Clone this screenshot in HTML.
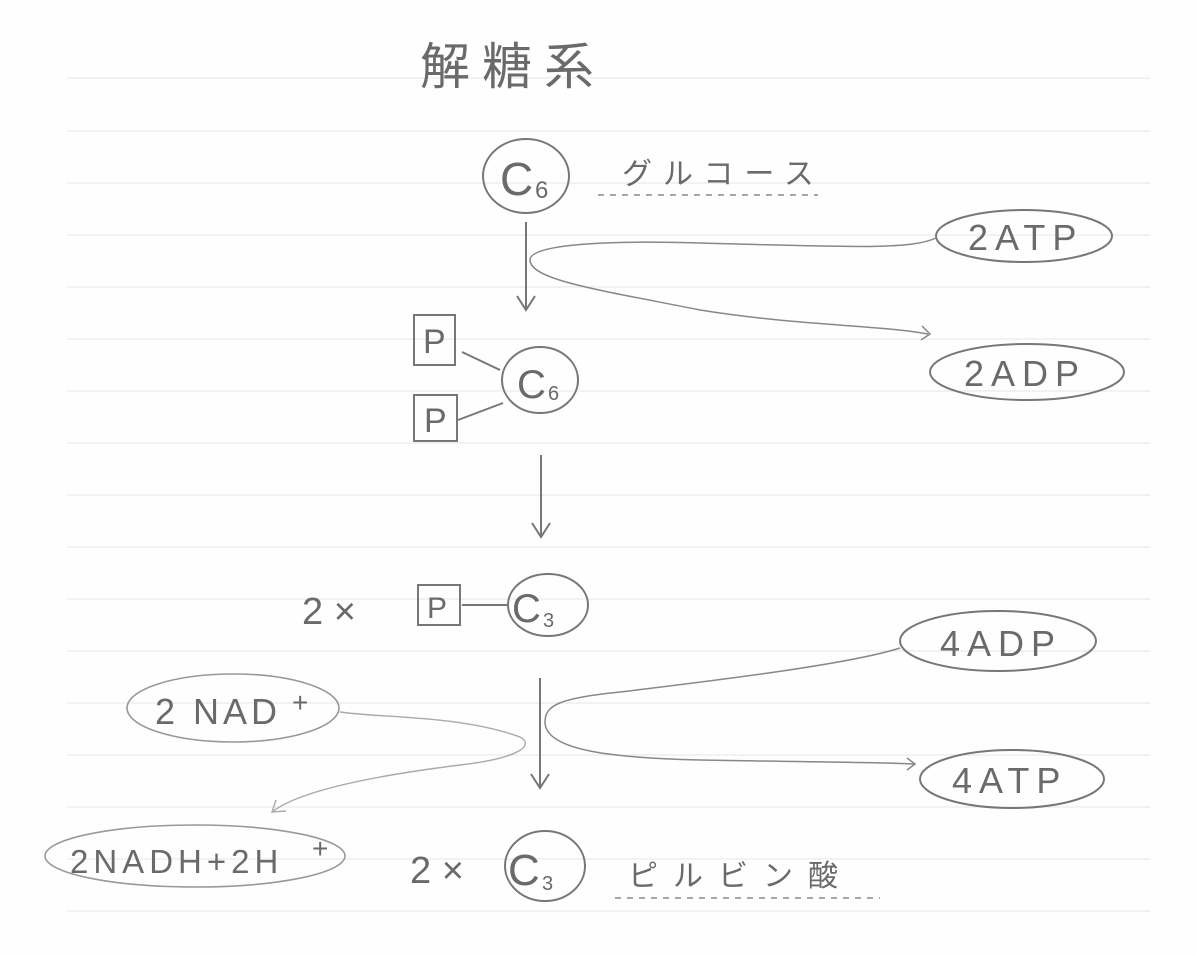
<!DOCTYPE html>
<html><head><meta charset="utf-8"><style>
html,body{margin:0;padding:0;background:#fff;}
svg{display:block;}
text{font-family:"Liberation Sans","Noto Sans CJK JP",sans-serif;fill:#6a6a6a;}
</style></head><body>
<svg width="1197" height="955" viewBox="0 0 1197 955" xmlns="http://www.w3.org/2000/svg">
<rect width="1197" height="955" fill="#fefefe"/>
<g stroke="#ececec" stroke-width="1.3">
<line x1="67" y1="78" x2="1150" y2="78"/><line x1="67" y1="131" x2="1150" y2="131"/>
<line x1="67" y1="183" x2="1150" y2="183"/><line x1="67" y1="235" x2="1150" y2="235"/>
<line x1="67" y1="287" x2="1150" y2="287"/><line x1="67" y1="339" x2="1150" y2="339"/>
<line x1="67" y1="391" x2="1150" y2="391"/><line x1="67" y1="443" x2="1150" y2="443"/>
<line x1="67" y1="495" x2="1150" y2="495"/><line x1="67" y1="547" x2="1150" y2="547"/>
<line x1="67" y1="599" x2="1150" y2="599"/><line x1="67" y1="651" x2="1150" y2="651"/>
<line x1="67" y1="703" x2="1150" y2="703"/><line x1="67" y1="755" x2="1150" y2="755"/>
<line x1="67" y1="807" x2="1150" y2="807"/><line x1="67" y1="859" x2="1150" y2="859"/>
<line x1="67" y1="911" x2="1150" y2="911"/>
</g>
<text x="420" y="84" font-size="50" fill="#777" letter-spacing="12">解糖系</text>

<g fill="none" stroke="#777" stroke-width="2">
<ellipse cx="526" cy="176" rx="43" ry="37"/>
<ellipse cx="1024" cy="236" rx="88" ry="26"/>
<ellipse cx="1027" cy="372" rx="97" ry="28"/>
<ellipse cx="540" cy="380" rx="38" ry="33"/>
<rect x="414" y="315" width="41" height="50"/>
<rect x="414" y="395" width="43" height="46"/>
<line x1="462" y1="352" x2="500" y2="370"/>
<line x1="458" y1="420" x2="503" y2="403"/>
<rect x="418" y="585" width="42" height="40"/>
<line x1="462" y1="605" x2="508" y2="605"/>
<ellipse cx="548" cy="605" rx="40" ry="31"/>
<ellipse cx="998" cy="641" rx="98" ry="30"/>
<ellipse cx="1012" cy="779" rx="92" ry="29"/>
<ellipse cx="545" cy="866" rx="40" ry="35"/>
</g>
<g fill="none" stroke="#999" stroke-width="1.6">
<ellipse cx="233" cy="708" rx="106" ry="34"/>
<ellipse cx="195" cy="856" rx="150" ry="31"/>
</g>
<g fill="none" stroke="#777" stroke-width="2">
<line x1="526" y1="222" x2="526" y2="310"/><path d="M517 296 L526 310 L535 296"/>
<line x1="541" y1="455" x2="541" y2="537"/><path d="M532 523 L541 537 L550 523"/>
<line x1="540" y1="678" x2="540" y2="788"/><path d="M531 774 L540 788 L549 774"/>
</g>
<g fill="none" stroke="#888" stroke-width="1.5">
<path d="M936 238 C910 250 850 247 700 243 C600 240 530 245 530 260 C530 280 600 290 700 310 C800 326 880 325 928 334"/>
<path d="M922 326 L930 334 L921 340"/>
<path d="M900 648 C850 664 720 680 620 692 C560 698 545 705 545 722 C545 752 620 758 700 760 C800 762 880 762 915 764"/>
<path d="M907 758 L915 764 L907 770"/>
</g>
<g fill="none" stroke="#aaa" stroke-width="1.4">
<path d="M340 712 C380 718 460 715 520 737 C535 745 520 758 460 765 C380 775 300 790 272 812"/>
<path d="M276 800 L272 812 L286 811"/>
</g>
<g stroke="#888" stroke-width="1.5" stroke-dasharray="6,6">
<line x1="598" y1="195" x2="818" y2="195"/>
<line x1="615" y1="898" x2="880" y2="898"/>
</g>

<text x="500" y="195" font-size="46" fill="#666">C</text><text x="535" y="198" font-size="24" fill="#666">6</text>
<text x="517" y="398" font-size="40" fill="#666">C</text><text x="548" y="400" font-size="20" fill="#666">6</text>
<text x="512" y="622" font-size="40" fill="#666">C</text><text x="543" y="627" font-size="20" fill="#666">3</text>
<text x="508" y="885" font-size="44" fill="#666">C</text><text x="542" y="890" font-size="20" fill="#666">3</text>
<text x="423" y="353" font-size="34" fill="#666">P</text>
<text x="424" y="432" font-size="34" fill="#666">P</text>
<text x="427" y="618" font-size="30" fill="#666">P</text>
<text x="622" y="184" font-size="30" fill="#777" letter-spacing="11">グルコース</text>
<text x="628" y="886" font-size="30" fill="#777" letter-spacing="15">ピルビン酸</text>
<text x="968" y="250" font-size="36" fill="#777" letter-spacing="7">2ATP</text>
<text x="964" y="386" font-size="36" fill="#777" letter-spacing="7">2ADP</text>
<text x="940" y="656" font-size="36" fill="#777" letter-spacing="7">4ADP</text>
<text x="952" y="793" font-size="36" fill="#777" letter-spacing="7">4ATP</text>
<text x="302" y="624" font-size="38" fill="#666">2 ×</text>
<text x="410" y="883" font-size="38" fill="#666">2 ×</text>
<text x="155" y="724" font-size="36" fill="#888" letter-spacing="4">2 NAD</text><text x="292" y="712" font-size="28" fill="#888">+</text>
<text x="70" y="873" font-size="33" fill="#888" letter-spacing="5">2NADH+2H</text><text x="312" y="858" font-size="28" fill="#888">+</text>
</svg>
</body></html>
